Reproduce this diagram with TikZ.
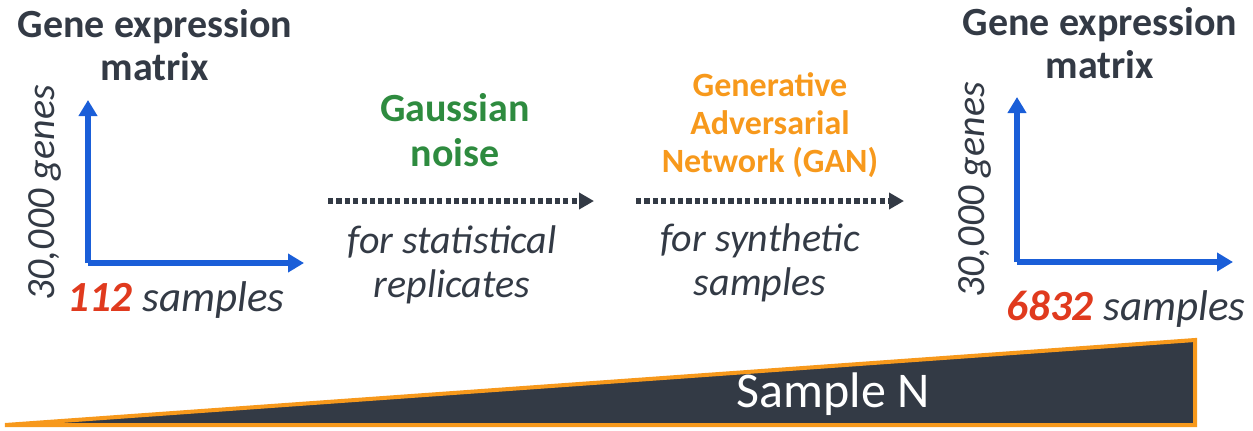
\documentclass[tikz,border=0pt]{standalone}
\usepackage{fontspec}
\setmainfont{Carlito}
\usetikzlibrary{arrows.meta,positioning}

\definecolor{ink}{HTML}{333A45}
\definecolor{axisblue}{HTML}{1A5ED8}
\definecolor{hotred}{HTML}{E03A1E}
\definecolor{noisegreen}{HTML}{2E8B3F}
\definecolor{ganorange}{HTML}{F7991C}

\begin{document}
\begin{tikzpicture}[x=0.5pt, y=-0.5pt, line cap=butt, line join=miter,
  title/.style={inner sep=0pt, align=center, text=ink, font=\fontsize{20pt}{21.5pt}\selectfont\bfseries},
  axlab/.style={inner sep=0pt, text=ink, font=\fontsize{21.5pt}{24pt}\selectfont\itshape},
  note/.style={inner sep=0pt, align=center, text=ink, font=\fontsize{20pt}{22pt}\selectfont\itshape},
  method/.style={inner sep=0pt, align=center, font=\fontsize{20pt}{22.5pt}\selectfont\bfseries},
  axis/.style={draw=axisblue, line width=3pt, -{Triangle[length=8pt,width=9pt]}},
  flow/.style={draw=ink, line width=2.6pt, dash pattern=on 2.6pt off 1.6pt, -{Triangle[length=7.5pt,width=8pt]}}]

\useasboundingbox (0,0) rectangle (1253,430);

% ----------------------------
% LEFT MATRIX (before)
% ----------------------------
\node[title] (ltitle) at (155,45) {Gene expression\\matrix};

\coordinate (lO) at (88,263);
\coordinate (lY) at (88,100);
\coordinate (lX) at (304,263);
\draw[axis] (lO) -- (lY);
\draw[axis] (lO) -- (lX);

\node[axlab, rotate=90, font=\fontsize{20pt}{24pt}\selectfont\itshape] (lgenes) at (45,193) {30,000 genes};
\node[axlab] (lsamples) at (176,300) {\textcolor{hotred}{\bfseries 112} samples};

% ----------------------------
% STEP 1: GAUSSIAN NOISE
% ----------------------------
\node[method, text=noisegreen] (noise) at (455,130) {Gaussian\\noise};
\coordinate (n1) at (328,201);
\coordinate (n2) at (594,201);
\draw[flow] (n1) -- (n2);
\node[note] (noisewhy) at (452,265) {for statistical\\replicates};

% ----------------------------
% STEP 2: GAN
% ----------------------------
\node[method, text=ganorange, font=\fontsize{17pt}{19pt}\selectfont\bfseries] (gan) at (770,125) {Generative\\Adversarial\\Network (GAN)};
\coordinate (g1) at (636,201);
\coordinate (g2) at (904,201);
\draw[flow] (g1) -- (g2);
\node[note] (ganwhy) at (760,263) {for synthetic\\samples};

% ----------------------------
% RIGHT MATRIX (after)
% ----------------------------
\node[title] (rtitle) at (1100,43) {Gene expression\\matrix};

\coordinate (rO) at (1017,262);
\coordinate (rY) at (1017,97);
\coordinate (rX) at (1233,262);
\draw[axis] (rO) -- (rY);
\draw[axis] (rO) -- (rX);

\node[axlab, rotate=90, font=\fontsize{20pt}{24pt}\selectfont\itshape] (rgenes) at (975,190) {30,000 genes};
\node[axlab] (rsamples) at (1126,309) {\textcolor{hotred}{\bfseries 6832} samples};

% ----------------------------
% SAMPLE SIZE WEDGE
% ----------------------------
\coordinate (wl) at (5,425);
\coordinate (wt) at (1195,340);
\coordinate (wb) at (1195,425);
\filldraw[fill=ink, draw=ganorange, line width=2pt] (wl) -- (wt) -- (wb) -- cycle;
\node[inner sep=0pt, text=white, font=\fontsize{25pt}{30pt}\selectfont] (wlab) at (833,394) {Sample N};

\end{tikzpicture}
\end{document}
